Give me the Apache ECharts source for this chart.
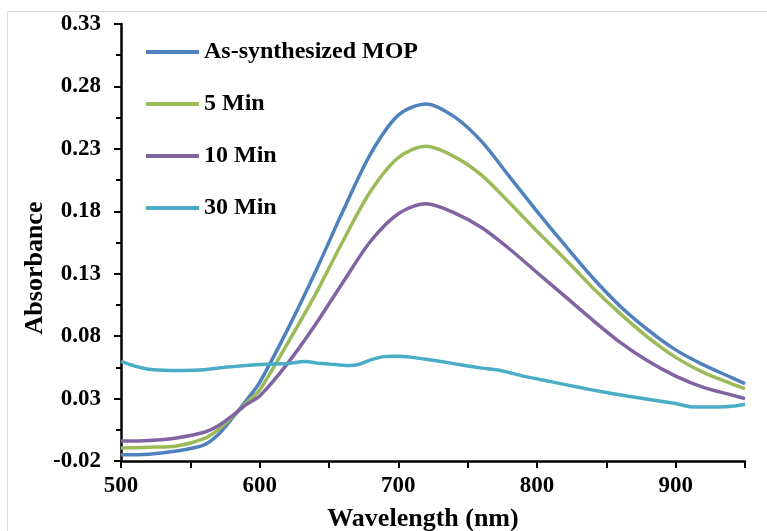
<!DOCTYPE html>
<html>
<head>
<meta charset="utf-8">
<script src="https://cdn.jsdelivr.net/npm/echarts@6/dist/echarts.min.js"></script>
<style>
html,body{margin:0;padding:0;background:#fff;}
#chart{width:767px;height:531px;}
</style>
</head>
<body>
<div id="chart"></div>
<script>
// ---- data ----
const seriesNames = ['As-synthesized MOP', '5 Min', '10 Min', '30 Min'];

const wlMain = [500, 520, 540, 560, 570, 580, 590, 600, 620, 640, 660, 680, 700, 720, 740, 760, 780, 800, 820, 840, 860, 880, 900, 920, 940, 950];
const asSynth = [-0.015, -0.0145, -0.012, -0.007, 0.001, 0.014, 0.028, 0.043, 0.085, 0.131, 0.180, 0.226, 0.257, 0.266, 0.256, 0.236, 0.208, 0.180, 0.153, 0.127, 0.104, 0.085, 0.069, 0.057, 0.047, 0.042];
const min5 = [-0.0095, -0.009, -0.008, -0.002, 0.005, 0.015, 0.026, 0.037, 0.074, 0.113, 0.156, 0.196, 0.223, 0.232, 0.224, 0.209, 0.187, 0.164, 0.142, 0.119, 0.098, 0.079, 0.063, 0.051, 0.042, 0.038];
const min10 = [-0.004, -0.0035, -0.0015, 0.003, 0.008, 0.016, 0.025, 0.032, 0.058, 0.089, 0.123, 0.156, 0.178, 0.186, 0.179, 0.167, 0.150, 0.131, 0.112, 0.093, 0.075, 0.060, 0.048, 0.039, 0.033, 0.030];

const wl30 = [500, 510, 520, 530, 545, 560, 575, 590, 605, 620, 632, 645, 655, 665, 672, 680, 690, 700, 710, 720, 737, 759, 773, 790, 809, 830, 845, 865, 881, 900, 912, 930, 942, 950];
const min30 = [0.0598, 0.056, 0.0535, 0.0527, 0.0525, 0.053, 0.055, 0.0565, 0.0575, 0.058, 0.0596, 0.058, 0.0572, 0.0564, 0.0575, 0.061, 0.0636, 0.0638, 0.063, 0.0615, 0.0586, 0.0546, 0.0527, 0.048, 0.0438, 0.039, 0.0358, 0.032, 0.0292, 0.026, 0.0233, 0.0233, 0.024, 0.0255];

const colors = ['#4F81BD', '#9BBB59', '#8064A2', '#4BACC6'];

const yMin = -0.02, yMax = 0.33, yStep = 0.05;
const xMin = 500, xMax = 950, xStep = 100;

function pairs(xs, ys) { return xs.map((x, i) => [x, ys[i]]); }

const FONT = "'Liberation Serif', 'Times New Roman', serif";

const chart = echarts.init(document.getElementById('chart'), null, {renderer: 'canvas'});

function mkSeries(name, data, color, smooth) {
  return {
    name: name,
    type: 'line',
    data: data,
    showSymbol: false,
    symbol: 'none',
    smooth: smooth,
    lineStyle: {color: color, width: 3.5},
    itemStyle: {color: color},
    emphasis: {disabled: true},
    animation: false
  };
}

chart.setOption({
  animation: false,
  backgroundColor: '#ffffff',
  grid: {left: 121, right: 22, top: 24, bottom: 70, containLabel: false, outerBoundsMode: 'none'},
  legend: {
    orient: 'vertical',
    left: 146,
    top: 40,
    padding: 0,
    itemWidth: 53,
    itemHeight: 4,
    itemGap: 28,
    icon: 'rect',
    data: seriesNames,
    textStyle: {fontFamily: FONT, fontWeight: 'bold', fontSize: 24, color: '#000'},
    selectedMode: false
  },
  xAxis: {
    type: 'value',
    min: xMin, max: xMax, interval: xStep,
    name: 'Wavelength (nm)',
    nameLocation: 'middle',
    nameGap: 45,
    nameTextStyle: {fontFamily: FONT, fontWeight: 'bold', fontSize: 26, color: '#000', padding: [0, 20, 0, 0]},
    axisLine: {show: true, onZero: false, lineStyle: {color: '#000', width: 2.5}},
    axisTick: {show: true, length: 7, lineStyle: {color: '#000', width: 2}},
    minorTick: {show: true, splitNumber: 2, length: 7, lineStyle: {color: '#000', width: 2}},
    axisLabel: {fontFamily: FONT, fontWeight: 'bold', fontSize: 23, color: '#000', margin: 14,
      showMaxLabel: false},
    splitLine: {show: false}
  },
  yAxis: {
    type: 'value',
    min: yMin, max: yMax, interval: yStep,
    axisLine: {show: true, onZero: false, lineStyle: {color: '#000', width: 2.5}},
    axisTick: {show: true, length: 7, lineStyle: {color: '#000', width: 2}},
    minorTick: {show: true, splitNumber: 2, length: 5, lineStyle: {color: '#000', width: 2}},
    axisLabel: {fontFamily: FONT, fontWeight: 'bold', fontSize: 23, color: '#000', margin: 20,
      formatter: v => Number(v).toFixed(2)},
    splitLine: {show: false}
  },
  graphic: [
    {type: 'rect', shape: {x: 7.5, y: 11.5, width: 800, height: 600}, style: {fill: null, stroke: '#d9d9d9', lineWidth: 1}, z: -10, silent: true},
    {type: 'text', x: 35, y: 268, rotation: Math.PI / 2,
      style: {text: 'Absorbance', fontFamily: FONT, fontWeight: 'bold', fontSize: 26, fill: '#000', align: 'center', verticalAlign: 'middle'}, silent: true}
  ],
  series: [
    mkSeries(seriesNames[0], pairs(wlMain, asSynth), colors[0], 0.3),
    mkSeries(seriesNames[1], pairs(wlMain, min5), colors[1], 0.3),
    mkSeries(seriesNames[2], pairs(wlMain, min10), colors[2], 0.3),
    mkSeries(seriesNames[3], pairs(wl30, min30), colors[3], 0.2)
  ]
});
</script>
</body>
</html>
